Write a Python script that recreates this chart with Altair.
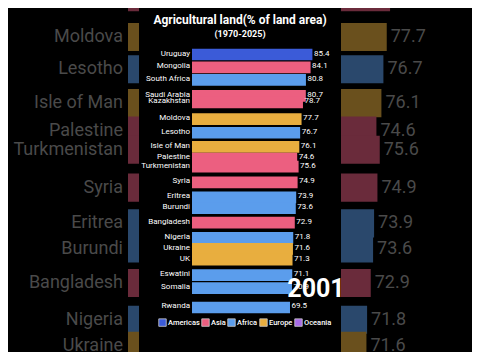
import altair as alt
import pandas as pd

countries = ["Uruguay", "Mongolia", "South Africa", "Saudi Arabia", "Kazakhstan",
             "Moldova", "Lesotho", "Isle of Man", "Palestine", "Turkmenistan",
             "Syria", "Eritrea", "Burundi", "Bangladesh", "Nigeria",
             "Ukraine", "UK", "Eswatini", "Somalia", "Rwanda"]
regions = ["Americas", "Asia", "Africa", "Asia", "Asia",
           "Europe", "Africa", "Europe", "Asia", "Asia",
           "Asia", "Africa", "Africa", "Asia", "Africa",
           "Europe", "Europe", "Africa", "Africa", "Africa"]
values = [85.4, 84.1, 80.8, 80.7, 78.7,
          77.7, 76.7, 76.1, 74.6, 75.6,
          74.9, 73.9, 73.6, 72.9, 71.8,
          71.6, 71.3, 71.1, 70.9, 69.5]
# interpolated (moving) rank of each bar in this frame of the race
ranks = [1.00, 1.96, 2.89, 4.08, 4.58,
         5.83, 6.84, 7.90, 8.76, 9.36,
         10.55, 11.67, 12.46, 13.54, 14.69,
         15.51, 16.30, 17.47, 18.44, 19.88]
region_names = ["Americas", "Asia", "Africa", "Europe", "Oceania"]
region_colors = ["#3b5bd8", "#ec5f80", "#5b9dec", "#e8ae3f", "#a86be8"]
region_colors_dim = ["#1c2a62", "#6a2b3b", "#2a486c", "#6a501d", "#4d316b"]
title_text = "Agricultural land(% of land area)"
subtitle_text = "(1970-2025)"
year_label = "2001"

df = pd.DataFrame({"country": countries, "region": regions,
                   "value": values, "rank": ranks})

FONT = "Roboto"
W, H = 464, 344

# ---------- dimmed, enlarged background copy ----------
bx = alt.Scale(domain=[0, 100], range=[120, 453], zero=False, nice=False)
by = alt.Scale(domain=[1, 21], range=[-125, 513], zero=False, nice=False)
bcol = alt.Color("region:N", scale=alt.Scale(domain=region_names, range=region_colors_dim),
                 legend=None)

bg_base = alt.Chart(df).transform_calculate(
    r0="datum.rank - 0.44", r1="datum.rank + 0.44", zero="0")
bg_bars = bg_base.mark_rect(clip=True).encode(
    x=alt.X("zero:Q", scale=bx, axis=None), x2="value:Q",
    y=alt.Y("r0:Q", scale=by, axis=None), y2="r1:Q",
    color=bcol)
bg_names = bg_base.mark_text(align="right", baseline="middle", dx=-5, font=FONT,
                             fontSize=18, color="#4a4a4a", clip=True).encode(
    x=alt.X("zero:Q", scale=bx, axis=None),
    y=alt.Y("rank:Q", scale=by, axis=None), text="country:N")
bg_vals = bg_base.mark_text(align="left", baseline="middle", dx=4, font=FONT,
                            fontSize=18, color="#4a4a4a", clip=True).encode(
    x=alt.X("value:Q", scale=bx, axis=None),
    y=alt.Y("rank:Q", scale=by, axis=None), text=alt.Text("value:Q", format=".1f"))
bg = alt.layer(bg_bars, bg_names, bg_vals)

# ---------- central black panel ----------
panel = alt.Chart(pd.DataFrame({"p": [0]})).mark_rect(color="black").encode(
    x=alt.value(131), x2=alt.value(333), y=alt.value(0), y2=alt.value(H))

# ---------- main bar chart ----------
cx = alt.Scale(domain=[0, 100], range=[184, 325], zero=False, nice=False)
cy = alt.Scale(domain=[1, 21], range=[46.5, 314.5], zero=False, nice=False)
ccol = alt.Color("region:N",
                 scale=alt.Scale(domain=region_names, range=region_colors),
                 legend=alt.Legend(title=None, orient="none", legendX=146, legendY=306,
                                   direction="horizontal", columns=5,
                                   symbolType="square", symbolSize=56,
                                   symbolStrokeColor="#cccccc", symbolStrokeWidth=0.8,
                                   symbolOpacity=1,
                                   labelColor="white", labelFont=FONT, labelFontSize=7.5,
                                   labelFontWeight=500,
                                   columnPadding=0, labelOffset=1, padding=4,
                                   fillColor="black"))

c_base = alt.Chart(df).transform_calculate(
    r0="datum.rank - 0.437", r1="datum.rank + 0.437", zero="0")
c_bars = c_base.mark_rect().encode(
    x=alt.X("zero:Q", scale=cx, axis=None), x2="value:Q",
    y=alt.Y("r0:Q", scale=cy, axis=None), y2="r1:Q",
    color=ccol)
c_names = c_base.mark_text(align="right", baseline="middle", dx=-2, dy=-1, font=FONT,
                           fontSize=8, color="white").encode(
    x=alt.X("zero:Q", scale=cx, axis=None),
    y=alt.Y("rank:Q", scale=cy, axis=None), text="country:N")
c_vals = c_base.mark_text(align="left", baseline="middle", dx=1.5, dy=-1, font=FONT,
                          fontSize=8, color="white").encode(
    x=alt.X("value:Q", scale=cx, axis=None),
    y=alt.Y("rank:Q", scale=cy, axis=None), text=alt.Text("value:Q", format=".1f"))
center = alt.layer(c_bars, c_names, c_vals)

# ---------- titles and year ----------
t_title = alt.Chart(pd.DataFrame({"t": [title_text]})).mark_text(
    align="center", baseline="middle", font=FONT, fontSize=12,
    fontWeight="bold", color="white").encode(
    x=alt.value(232), y=alt.value(12), text="t:N")
t_sub = alt.Chart(pd.DataFrame({"t": [subtitle_text]})).mark_text(
    align="center", baseline="middle", font=FONT, fontSize=9,
    fontWeight="bold", color="white").encode(
    x=alt.value(232), y=alt.value(26), text="t:N")
t_year = alt.Chart(pd.DataFrame({"t": [year_label]})).mark_text(
    align="center", baseline="middle", font=FONT, fontSize=25,
    fontWeight="bold", color="white").encode(
    x=alt.value(308), y=alt.value(281), text="t:N")

chart = alt.layer(bg, panel, center, t_title, t_sub, t_year).resolve_scale(
    x="independent", y="independent", color="independent"
).properties(
    width=W, height=H, background="black", padding=0,
    autosize=alt.AutoSizeParams(type="none")
).configure_view(stroke=None)

chart.save("out.html", embed_options={"renderer": "svg", "actions": False})
